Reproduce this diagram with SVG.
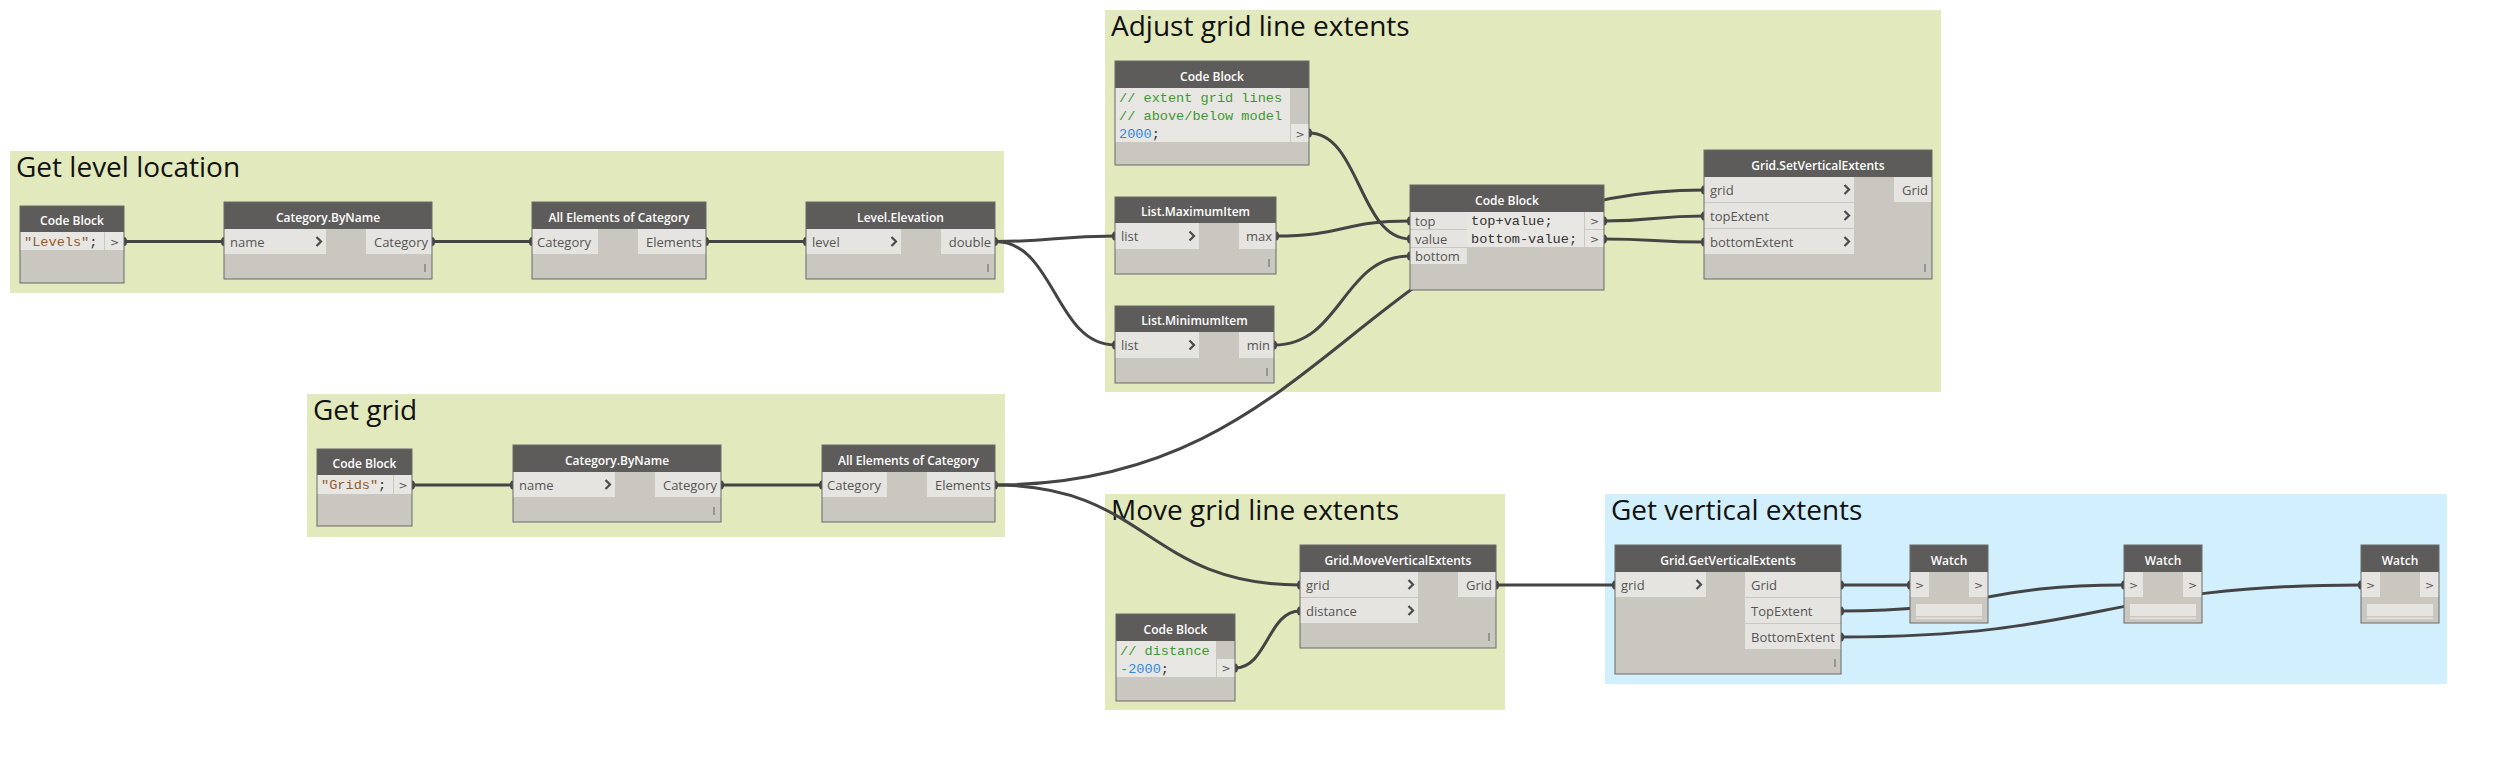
<svg xmlns="http://www.w3.org/2000/svg" width="2500" height="764" viewBox="0 0 2500 764">
<defs>
<style>
.gg{fill:#e1e9bd}
.gb{fill:#d1effc}
.title{font-family:"Open Sans",sans-serif;font-size:28px;fill:#111}
.body{fill:#cac6c0}
.hdr{fill:#5e5c5a}
.ol{fill:none;stroke:#6b6b6b;stroke-width:1}
.ht{font-family:"Open Sans",sans-serif;font-weight:600;font-size:12px;fill:#fff;text-anchor:middle}
.row{fill:#e6e4e0}
.crow{fill:#e8e6e3}
.lbl{font-family:"Open Sans",sans-serif;font-size:13px;fill:#555}
.end{text-anchor:end}
.chev{fill:none;stroke:#4b4b4b;stroke-width:2.2}
.lace{stroke:#7a7a7a;stroke-width:1.3}
.code{font-family:"Liberation Mono",monospace;font-size:13.6px;fill:#333}
.cm{fill:#3a9a2e}
.num{fill:#2f8ae0}
.str{fill:#905a2c}
.pt{font-family:"DejaVu Sans",sans-serif;font-size:11px;fill:#555;text-anchor:middle}
.wire{fill:none;stroke:#444;stroke-width:3}
.dot{fill:#444}
</style>
</defs>
<rect width="2500" height="764" fill="#ffffff"/>

<g id="groups">
<rect class="gg" x="10" y="151" width="994" height="142"/>
<text class="title" x="16" y="177">Get level location</text>
<rect class="gg" x="1105" y="10" width="836" height="382"/>
<text class="title" x="1111" y="36">Adjust grid line extents</text>
<rect class="gg" x="307" y="394" width="698" height="143"/>
<text class="title" x="313" y="420">Get grid</text>
<rect class="gg" x="1105" y="494" width="400" height="216"/>
<text class="title" x="1111" y="520">Move grid line extents</text>
<rect class="gb" x="1605" y="494" width="842" height="190"/>
<text class="title" x="1611" y="520">Get vertical extents</text>
</g>

<g id="connectors">
<path class="wire" d="M124,241.5 L224,241.5"/>
<path class="wire" d="M432,241.5 L532,241.5"/>
<path class="wire" d="M706,241.5 L806,241.5"/>
<path class="wire" d="M995,241.5 C1055,241.5 1055,236 1115,236"/>
<path class="wire" d="M995,241.5 C1055,241.5 1055,345 1115,345"/>
<path class="wire" d="M1276,236 C1343,236 1343,221 1410,221"/>
<path class="wire" d="M1274,345 C1342,345 1342,256 1410,256"/>
<path class="wire" d="M1309,133 C1359.5,133 1359.5,239 1410,239"/>
<path class="wire" d="M1604,221 C1654,221 1654,216 1704,216"/>
<path class="wire" d="M1604,239 C1654,239 1654,242 1704,242"/>
<path class="wire" d="M995,485 C1335,485 1364,190 1704,190"/>
<path class="wire" d="M412,485 L513,485"/>
<path class="wire" d="M721,485 L822,485"/>
<path class="wire" d="M995,485 C1147,485 1148,585 1300,585"/>
<path class="wire" d="M1235,668 C1267,668 1268,611 1300,611"/>
<path class="wire" d="M1496,585 L1615,585"/>
<path class="wire" d="M1841,585 L1910,585"/>
<path class="wire" d="M1841,611 C1982,611 1983,585 2124,585"/>
<path class="wire" d="M1841,637 C2101,637 2101,585 2361,585"/>
<ellipse class="dot" cx="124" cy="241.5" rx="3" ry="4.5"/>
<ellipse class="dot" cx="224" cy="241.5" rx="3" ry="4.5"/>
<ellipse class="dot" cx="432" cy="241.5" rx="3" ry="4.5"/>
<ellipse class="dot" cx="532" cy="241.5" rx="3" ry="4.5"/>
<ellipse class="dot" cx="706" cy="241.5" rx="3" ry="4.5"/>
<ellipse class="dot" cx="806" cy="241.5" rx="3" ry="4.5"/>
<ellipse class="dot" cx="995" cy="241.5" rx="3" ry="4.5"/>
<ellipse class="dot" cx="1115" cy="236" rx="3" ry="4.5"/>
<ellipse class="dot" cx="1115" cy="345" rx="3" ry="4.5"/>
<ellipse class="dot" cx="1276" cy="236" rx="3" ry="4.5"/>
<ellipse class="dot" cx="1274" cy="345" rx="3" ry="4.5"/>
<ellipse class="dot" cx="1309" cy="133" rx="3" ry="4.5"/>
<ellipse class="dot" cx="1410" cy="221" rx="3" ry="4.5"/>
<ellipse class="dot" cx="1410" cy="239" rx="3" ry="4.5"/>
<ellipse class="dot" cx="1410" cy="256" rx="3" ry="4.5"/>
<ellipse class="dot" cx="1604" cy="221" rx="3" ry="4.5"/>
<ellipse class="dot" cx="1604" cy="239" rx="3" ry="4.5"/>
<ellipse class="dot" cx="1704" cy="190" rx="3" ry="4.5"/>
<ellipse class="dot" cx="1704" cy="216" rx="3" ry="4.5"/>
<ellipse class="dot" cx="1704" cy="242" rx="3" ry="4.5"/>
<ellipse class="dot" cx="412" cy="485" rx="3" ry="4.5"/>
<ellipse class="dot" cx="513" cy="485" rx="3" ry="4.5"/>
<ellipse class="dot" cx="721" cy="485" rx="3" ry="4.5"/>
<ellipse class="dot" cx="822" cy="485" rx="3" ry="4.5"/>
<ellipse class="dot" cx="995" cy="485" rx="3" ry="4.5"/>
<ellipse class="dot" cx="1300" cy="585" rx="3" ry="4.5"/>
<ellipse class="dot" cx="1300" cy="611" rx="3" ry="4.5"/>
<ellipse class="dot" cx="1235" cy="668" rx="3" ry="4.5"/>
<ellipse class="dot" cx="1496" cy="585" rx="3" ry="4.5"/>
<ellipse class="dot" cx="1615" cy="585" rx="3" ry="4.5"/>
<ellipse class="dot" cx="1841" cy="585" rx="3" ry="4.5"/>
<ellipse class="dot" cx="1841" cy="611" rx="3" ry="4.5"/>
<ellipse class="dot" cx="1841" cy="637" rx="3" ry="4.5"/>
<ellipse class="dot" cx="1910" cy="585" rx="3" ry="4.5"/>
<ellipse class="dot" cx="2124" cy="585" rx="3" ry="4.5"/>
<ellipse class="dot" cx="2361" cy="585" rx="3" ry="4.5"/>
</g>

<g id="cb-levels">
<rect class="body" x="20" y="206" width="104" height="77"/>
<rect class="hdr" x="20" y="206" width="104" height="26"/>
<text class="ht" x="72" y="224.5">Code Block</text>
<rect class="crow" x="20" y="232" width="84" height="18"/>
<rect class="crow" x="105" y="232" width="19" height="18"/>
<text class="code" x="24" y="246"><tspan class="str">"Levels"</tspan>;</text>
<text class="pt" x="114.5" y="245.5">&gt;</text>
<rect class="ol" x="20" y="206" width="104" height="77"/>
</g>

<g id="catbyname-level">
<rect class="body" x="224" y="202" width="208" height="77"/>
<rect class="hdr" x="224" y="202" width="208" height="27"/>
<text class="ht" x="328" y="221.5">Category.ByName</text>
<rect class="row" x="224" y="229" width="102" height="25"/>
<text class="lbl" x="230" y="246.5">name</text>
<polyline class="chev" points="316.5,237 321,241.5 316.5,246"/>
<rect class="row" x="366" y="229" width="66" height="25"/>
<text class="lbl end" x="428" y="246.5">Category</text>
<line class="lace" x1="425" y1="264" x2="425" y2="272"/>
<rect class="ol" x="224" y="202" width="208" height="77"/>
</g>

<g id="allelem-level">
<rect class="body" x="532" y="202" width="174" height="77"/>
<rect class="hdr" x="532" y="202" width="174" height="27"/>
<text class="ht" x="619" y="221.5">All Elements of Category</text>
<rect class="row" x="532" y="229" width="66" height="25"/>
<text class="lbl" x="537" y="246.5">Category</text>
<rect class="row" x="638" y="229" width="68" height="25"/>
<text class="lbl end" x="702" y="246.5">Elements</text>
<rect class="ol" x="532" y="202" width="174" height="77"/>
</g>

<g id="level-elevation">
<rect class="body" x="806" y="202" width="189" height="77"/>
<rect class="hdr" x="806" y="202" width="189" height="27"/>
<text class="ht" x="900.5" y="221.5">Level.Elevation</text>
<rect class="row" x="806" y="229" width="95" height="25"/>
<text class="lbl" x="812" y="246.5">level</text>
<polyline class="chev" points="891.5,237 896,241.5 891.5,246"/>
<rect class="row" x="941" y="229" width="54" height="25"/>
<text class="lbl end" x="991" y="246.5">double</text>
<line class="lace" x1="988" y1="264" x2="988" y2="272"/>
<rect class="ol" x="806" y="202" width="189" height="77"/>
</g>

<g id="cb-extent">
<rect class="body" x="1115" y="61" width="194" height="104"/>
<rect class="hdr" x="1115" y="61" width="194" height="27"/>
<text class="ht" x="1212" y="80.5">Code Block</text>
<rect class="crow" x="1115" y="88" width="175" height="54"/>
<rect class="crow" x="1291" y="124" width="18" height="18"/>
<text class="code cm" x="1119" y="101.5">// extent grid lines</text>
<text class="code cm" x="1119" y="119.5">// above/below model</text>
<text class="code" x="1119" y="137.5"><tspan class="num">2000</tspan>;</text>
<text class="pt" x="1300" y="137.5">&gt;</text>
<rect class="ol" x="1115" y="61" width="194" height="104"/>
</g>

<g id="list-max">
<rect class="body" x="1115" y="197" width="161" height="77"/>
<rect class="hdr" x="1115" y="197" width="161" height="26"/>
<text class="ht" x="1195.5" y="215.5">List.MaximumItem</text>
<rect class="row" x="1115" y="223" width="84" height="26"/>
<text class="lbl" x="1121" y="240.5">list</text>
<polyline class="chev" points="1189.5,231.5 1194,236 1189.5,240.5"/>
<rect class="row" x="1239" y="223" width="37" height="26"/>
<text class="lbl end" x="1272" y="240.5">max</text>
<line class="lace" x1="1269" y1="259" x2="1269" y2="267"/>
<rect class="ol" x="1115" y="197" width="161" height="77"/>
</g>

<g id="list-min">
<rect class="body" x="1115" y="306" width="159" height="77"/>
<rect class="hdr" x="1115" y="306" width="159" height="26"/>
<text class="ht" x="1194.5" y="324.5">List.MinimumItem</text>
<rect class="row" x="1115" y="332" width="84" height="26"/>
<text class="lbl" x="1121" y="349.5">list</text>
<polyline class="chev" points="1189.5,340.5 1194,345 1189.5,349.5"/>
<rect class="row" x="1239" y="332" width="35" height="26"/>
<text class="lbl end" x="1270" y="349.5">min</text>
<line class="lace" x1="1267" y1="368" x2="1267" y2="376"/>
<rect class="ol" x="1115" y="306" width="159" height="77"/>
</g>

<g id="cb-expr">
<rect class="body" x="1410" y="185" width="194" height="105"/>
<rect class="hdr" x="1410" y="185" width="194" height="27"/>
<text class="ht" x="1507" y="204.5">Code Block</text>
<rect class="row" x="1410" y="212" width="57" height="17"/>
<rect class="row" x="1410" y="230" width="57" height="17"/>
<rect class="row" x="1410" y="248" width="57" height="16"/>
<text class="lbl" x="1415" y="225.5">top</text>
<text class="lbl" x="1415" y="243.5">value</text>
<text class="lbl" x="1415" y="261">bottom</text>
<rect class="crow" x="1467" y="212" width="117" height="35"/>
<rect class="crow" x="1585" y="212" width="19" height="17"/>
<rect class="crow" x="1585" y="230" width="19" height="17"/>
<text class="code" x="1471" y="225">top+value;</text>
<text class="code" x="1471" y="243">bottom-value;</text>
<text class="pt" x="1594.5" y="224.5">&gt;</text>
<text class="pt" x="1594.5" y="242.5">&gt;</text>
<rect class="ol" x="1410" y="185" width="194" height="105"/>
</g>

<g id="set-vertical-extents">
<rect class="body" x="1704" y="150" width="228" height="129"/>
<rect class="hdr" x="1704" y="150" width="228" height="27"/>
<text class="ht" x="1818" y="169.5">Grid.SetVerticalExtents</text>
<rect class="row" x="1704" y="177" width="150" height="25"/>
<rect class="row" x="1704" y="203" width="150" height="25"/>
<rect class="row" x="1704" y="229" width="150" height="25"/>
<text class="lbl" x="1710" y="194.5">grid</text>
<text class="lbl" x="1710" y="220.5">topExtent</text>
<text class="lbl" x="1710" y="246.5">bottomExtent</text>
<polyline class="chev" points="1844.5,185 1849,189.5 1844.5,194"/>
<polyline class="chev" points="1844.5,211 1849,215.5 1844.5,220"/>
<polyline class="chev" points="1844.5,237 1849,241.5 1844.5,246"/>
<rect class="row" x="1894" y="177" width="38" height="25"/>
<text class="lbl end" x="1928" y="194.5">Grid</text>
<line class="lace" x1="1925" y1="264" x2="1925" y2="272"/>
<rect class="ol" x="1704" y="150" width="228" height="129"/>
</g>

<g id="cb-grids">
<rect class="body" x="317" y="449" width="95" height="77"/>
<rect class="hdr" x="317" y="449" width="95" height="26"/>
<text class="ht" x="364.5" y="467.5">Code Block</text>
<rect class="crow" x="317" y="475" width="76" height="19"/>
<rect class="crow" x="394" y="475" width="18" height="19"/>
<text class="code" x="321" y="489"><tspan class="str">"Grids"</tspan>;</text>
<text class="pt" x="403" y="489">&gt;</text>
<rect class="ol" x="317" y="449" width="95" height="77"/>
</g>

<g id="catbyname-grid">
<rect class="body" x="513" y="445" width="208" height="77"/>
<rect class="hdr" x="513" y="445" width="208" height="27"/>
<text class="ht" x="617" y="464.5">Category.ByName</text>
<rect class="row" x="513" y="472" width="102" height="25"/>
<text class="lbl" x="519" y="489.5">name</text>
<polyline class="chev" points="605.5,480 610,484.5 605.5,489"/>
<rect class="row" x="655" y="472" width="66" height="25"/>
<text class="lbl end" x="717" y="489.5">Category</text>
<line class="lace" x1="714" y1="507" x2="714" y2="515"/>
<rect class="ol" x="513" y="445" width="208" height="77"/>
</g>

<g id="allelem-grid">
<rect class="body" x="822" y="445" width="173" height="77"/>
<rect class="hdr" x="822" y="445" width="173" height="27"/>
<text class="ht" x="908.5" y="464.5">All Elements of Category</text>
<rect class="row" x="822" y="472" width="65" height="25"/>
<text class="lbl" x="827" y="489.5">Category</text>
<rect class="row" x="927" y="472" width="68" height="25"/>
<text class="lbl end" x="991" y="489.5">Elements</text>
<rect class="ol" x="822" y="445" width="173" height="77"/>
</g>

<g id="move-vertical-extents">
<rect class="body" x="1300" y="545" width="196" height="103"/>
<rect class="hdr" x="1300" y="545" width="196" height="27"/>
<text class="ht" x="1398" y="564.5">Grid.MoveVerticalExtents</text>
<rect class="row" x="1300" y="572" width="118" height="25"/>
<rect class="row" x="1300" y="598" width="118" height="25"/>
<text class="lbl" x="1306" y="589.5">grid</text>
<text class="lbl" x="1306" y="615.5">distance</text>
<polyline class="chev" points="1408.5,580 1413,584.5 1408.5,589"/>
<polyline class="chev" points="1408.5,606 1413,610.5 1408.5,615"/>
<rect class="row" x="1458" y="572" width="38" height="25"/>
<text class="lbl end" x="1492" y="589.5">Grid</text>
<line class="lace" x1="1489" y1="633" x2="1489" y2="641"/>
<rect class="ol" x="1300" y="545" width="196" height="103"/>
</g>

<g id="cb-distance">
<rect class="body" x="1116" y="614" width="119" height="87"/>
<rect class="hdr" x="1116" y="614" width="119" height="27"/>
<text class="ht" x="1175.5" y="633.5">Code Block</text>
<rect class="crow" x="1116" y="641" width="100" height="36"/>
<rect class="crow" x="1217" y="659" width="18" height="18"/>
<text class="code cm" x="1120" y="654.5">// distance</text>
<text class="code" x="1120" y="672.5"><tspan class="num">-2000</tspan>;</text>
<text class="pt" x="1226" y="672">&gt;</text>
<rect class="ol" x="1116" y="614" width="119" height="87"/>
</g>

<g id="get-vertical-extents">
<rect class="body" x="1615" y="545" width="226" height="129"/>
<rect class="hdr" x="1615" y="545" width="226" height="27"/>
<text class="ht" x="1728" y="564.5">Grid.GetVerticalExtents</text>
<rect class="row" x="1615" y="572" width="91" height="25"/>
<text class="lbl" x="1621" y="589.5">grid</text>
<polyline class="chev" points="1696.5,580 1701,584.5 1696.5,589"/>
<rect class="row" x="1745" y="572" width="96" height="25"/>
<rect class="row" x="1745" y="598" width="96" height="25"/>
<rect class="row" x="1745" y="624" width="96" height="25"/>
<text class="lbl" x="1751" y="589.5">Grid</text>
<text class="lbl" x="1751" y="615.5">TopExtent</text>
<text class="lbl" x="1751" y="641.5">BottomExtent</text>
<line class="lace" x1="1835" y1="659" x2="1835" y2="667"/>
<rect class="ol" x="1615" y="545" width="226" height="129"/>
</g>

<g id="watch-1">
<rect class="body" x="1910" y="545" width="78" height="78"/>
<rect class="hdr" x="1910" y="545" width="78" height="27"/>
<text class="ht" x="1949" y="564.5">Watch</text>
<rect class="row" x="1910" y="572" width="19" height="25"/>
<rect class="row" x="1969" y="572" width="19" height="25"/>
<text class="pt" x="1919.5" y="588.5">&gt;</text>
<text class="pt" x="1978.5" y="588.5">&gt;</text>
<rect class="row" x="1916" y="604" width="66" height="12"/>
<rect class="row" x="1916" y="617.5" width="66" height="1.5"/>
<rect class="ol" x="1910" y="545" width="78" height="78"/>
</g>

<g id="watch-2">
<rect class="body" x="2124" y="545" width="78" height="78"/>
<rect class="hdr" x="2124" y="545" width="78" height="27"/>
<text class="ht" x="2163" y="564.5">Watch</text>
<rect class="row" x="2124" y="572" width="19" height="25"/>
<rect class="row" x="2183" y="572" width="19" height="25"/>
<text class="pt" x="2133.5" y="588.5">&gt;</text>
<text class="pt" x="2192.5" y="588.5">&gt;</text>
<rect class="row" x="2130" y="604" width="66" height="12"/>
<rect class="row" x="2130" y="617.5" width="66" height="1.5"/>
<rect class="ol" x="2124" y="545" width="78" height="78"/>
</g>

<g id="watch-3">
<rect class="body" x="2361" y="545" width="78" height="78"/>
<rect class="hdr" x="2361" y="545" width="78" height="27"/>
<text class="ht" x="2400" y="564.5">Watch</text>
<rect class="row" x="2361" y="572" width="19" height="25"/>
<rect class="row" x="2420" y="572" width="19" height="25"/>
<text class="pt" x="2370.5" y="588.5">&gt;</text>
<text class="pt" x="2429.5" y="588.5">&gt;</text>
<rect class="row" x="2367" y="604" width="66" height="12"/>
<rect class="row" x="2367" y="617.5" width="66" height="1.5"/>
<rect class="ol" x="2361" y="545" width="78" height="78"/>
</g>
</svg>
